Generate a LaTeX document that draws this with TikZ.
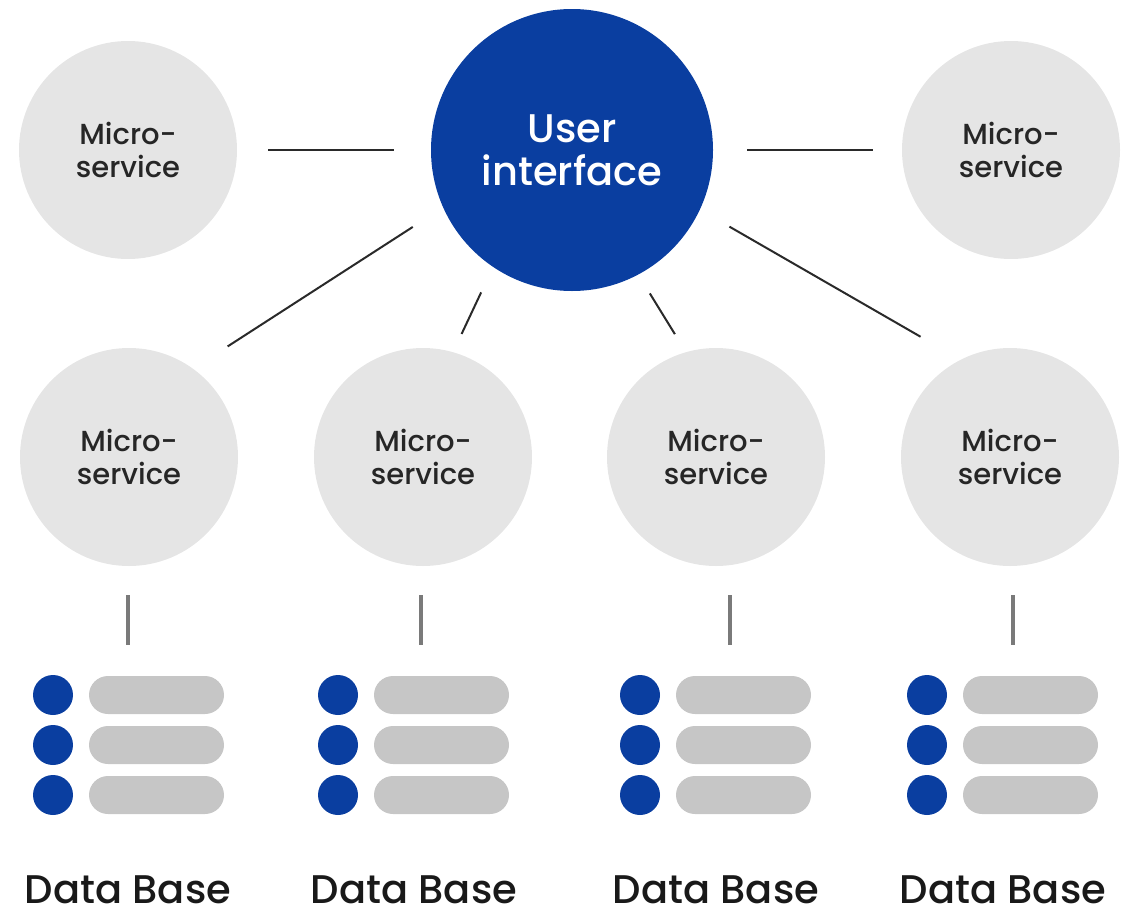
\documentclass[tikz,border=0pt]{standalone}
\usepackage{fontspec}
\setmainfont{Poppins}[UprightFont=* Medium]
\definecolor{uiblue}{HTML}{0A3EA0}
\definecolor{msgray}{HTML}{E5E5E5}
\definecolor{pillgray}{HTML}{C6C6C6}
\definecolor{stemgray}{HTML}{7A7A7A}
\definecolor{linkdark}{HTML}{2A2A2A}
\tikzset{
	service/.style={circle, fill=msgray, inner sep=0pt, minimum size=218pt, align=center,
		font=\fontsize{29}{33}\selectfont, text=black!85},
	uinode/.style={circle, fill=uiblue, inner sep=0pt, minimum size=282pt, align=center,
		font=\fontsize{40}{43}\selectfont, text=white},
	link/.style={line width=2pt, linkdark},
	stem/.style={line width=3.5pt, stemgray},
	dblabel/.style={anchor=base, inner sep=0pt, font=\fontsize{40}{44}\selectfont, text=black!90}
}
\begin{document}
\begin{tikzpicture}[x=1pt, y=1pt]
	\useasboundingbox (0,0) rectangle (1130,-916);
	% user interface and micro services
	\node[uinode] (ui) at (572,-150) {User\\interface};
	\node[service] (msTL) at (128,-150) {Micro-\\service};
	\node[service] (msTR) at (1011,-150) {Micro-\\service};
	\foreach \x/\nm in {129/A,423/B,716/C,1010/D}
	{ \node[service] (ms\nm) at (\x,-457) {Micro-\\service};
	}
	% links to the user interface
	\draw[link, shorten <=31pt, shorten >=37pt] (msTL) -- (ui);
	\draw[link, shorten <=34pt, shorten >=29pt] (ui) -- (msTR);
	\draw[link, shorten <=36pt, shorten >=41pt] (ui.204.6) -- (msA.54.5);
	\draw[link, shorten <=28pt, shorten >=20pt] (ui.236.8) -- (msB.74.7);
	\draw[link, shorten <=22pt, shorten >=21pt] (ui.298.3) -- (msC.106.6);
	\draw[link, shorten <=34pt, shorten >=46pt] (ui.335.4) -- (msD.117.1);
	% data bases
	\foreach \dx/\sx/\lx/\nm in {53/128/128/A,338/421/414/B,640/730/716/C,927/1013/1003/D}
	{
		\foreach \dy in {695,745,795}
		{ \fill[uiblue] (\dx,-\dy) circle (20pt);
		  \fill[pillgray, rounded corners=19pt] ({\dx+36},{-\dy-19}) rectangle ({\dx+171},{-\dy+19});
		}
		\coordinate (db\nm) at (\sx,-676);
		\draw[stem, shorten <=29pt, shorten >=31pt] (ms\nm.south -| db\nm) -- (db\nm);
		\node[dblabel] (lbl\nm) at (\lx,-903) {Data Base};
	}
\end{tikzpicture}
\end{document}
